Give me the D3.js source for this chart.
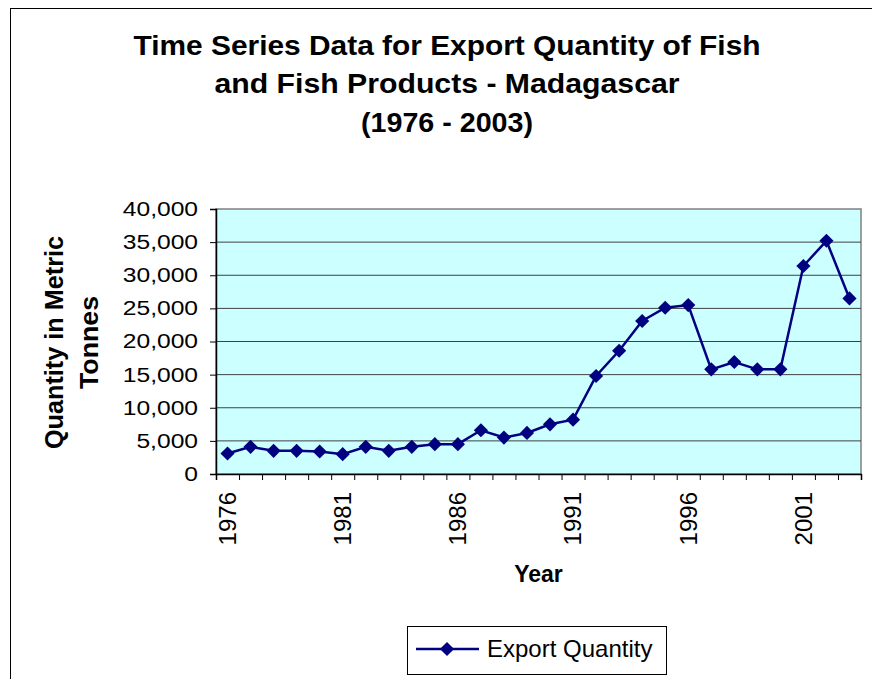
<!DOCTYPE html>
<html>
<head>
<meta charset="utf-8">
<script src="https://cdn.jsdelivr.net/npm/d3@7"></script>
<style>
  body { margin: 0; background: #fff; }
  text { font-family: "Liberation Sans", Arial, sans-serif; fill: #000; }
</style>
</head>
<body>
<svg id="chart" width="872" height="679"></svg>
<script>
// data
var years = [1976, 1977, 1978, 1979, 1980, 1981, 1982, 1983, 1984, 1985, 1986, 1987, 1988, 1989,
             1990, 1991, 1992, 1993, 1994, 1995, 1996, 1997, 1998, 1999, 2000, 2001, 2002, 2003];
var exportQty = [3100, 4100, 3500, 3500, 3400, 3000, 4100, 3500, 4100, 4500, 4500, 6600, 5500, 6200,
                 7500, 8200, 14800, 18600, 23100, 25100, 25500, 15800, 16900, 15800, 15800, 31400, 35200, 26500];
var labelYears = [1976, 1981, 1986, 1991, 1996, 2001];
var yTicks = [0, 5000, 10000, 15000, 20000, 25000, 30000, 35000, 40000];
var titleLines = ["Time Series Data for Export Quantity of Fish", "and Fish Products - Madagascar", "(1976 - 2003)"];
var yTitleLines = ["Quantity in Metric", "Tonnes"];
var seriesName = "Export Quantity";

(function () {
    var svg = d3.select("#chart");
    var plotLeft = 216, plotRight = 861, plotTop = 209, plotBottom = 474;
    var navy = "#000080";

    // outer chart border
    svg.append("rect").attr("x", 10.5).attr("y", 8.5).attr("width", 900).attr("height", 700)
        .attr("fill", "#fff").attr("stroke", "#000").attr("stroke-width", 1);

    var x = d3.scaleBand().domain(years).range([plotLeft, plotRight]);
    var xEdges = d3.scaleLinear().domain([0, years.length]).range([plotLeft, plotRight]);
    var y = d3.scaleLinear().domain([0, 40000]).range([plotBottom, plotTop]);

    // plot area
    svg.append("rect").attr("x", plotLeft).attr("y", plotTop)
        .attr("width", plotRight - plotLeft).attr("height", plotBottom - plotTop)
        .attr("fill", "#CCFFFF").attr("stroke", "#808080").attr("stroke-width", 1.5);

    // gridlines
    svg.append("g").selectAll("line").data(yTicks.filter(function (d) { return d > 0 && d < 40000; })).enter().append("line")
        .attr("x1", plotLeft).attr("x2", plotRight)
        .attr("y1", function (d) { return y(d); }).attr("y2", function (d) { return y(d); })
        .attr("stroke", "#404040").attr("stroke-width", 1);

    // y axis
    var yAxis = svg.append("g").attr("transform", "translate(" + plotLeft + ",0)")
        .call(d3.axisLeft(y).tickValues(yTicks).tickSize(6).tickPadding(12).tickFormat(d3.format(",")));
    yAxis.select(".domain").attr("stroke", "#000").attr("stroke-width", 1.5);
    yAxis.selectAll(".tick line").attr("stroke", "#000");
    yAxis.selectAll("text").attr("font-size", 20).attr("fill", "#000")
        .style("font-family", "'Liberation Sans', Arial, sans-serif")
        .each(function () {
            var w = this.getComputedTextLength();
            d3.select(this).attr("textLength", w * 1.23).attr("lengthAdjust", "spacingAndGlyphs");
        });

    // x axis ticks between categories
    var xAxis = svg.append("g").attr("transform", "translate(0," + plotBottom + ")")
        .call(d3.axisBottom(xEdges).tickValues(d3.range(years.length + 1)).tickSize(6).tickFormat(""));
    xAxis.select(".domain").attr("stroke", "#000").attr("stroke-width", 1.5);
    xAxis.selectAll(".tick line").attr("stroke", "#000");

    // x labels, rotated
    svg.append("g").selectAll("text").data(labelYears).enter().append("text")
        .attr("transform", function (d) { return "translate(" + (x(d) + x.bandwidth() / 2) + "," + (plotBottom + 18) + ") rotate(-90)"; })
        .attr("text-anchor", "end").attr("dy", "0.35em").attr("font-size", 24)
        .text(function (d) { return d; });

    // series line + markers
    var line = d3.line()
        .x(function (d, i) { return x(years[i]) + x.bandwidth() / 2; })
        .y(function (d) { return y(d); });
    svg.append("path").datum(exportQty).attr("d", line)
        .attr("fill", "none").attr("stroke", navy).attr("stroke-width", 2.5);

    var diamond = d3.symbol().type(d3.symbolSquare).size(100);
    svg.append("g").selectAll("path").data(exportQty).enter().append("path")
        .attr("d", diamond)
        .attr("transform", function (d, i) { return "translate(" + (x(years[i]) + x.bandwidth() / 2) + "," + y(d) + ") rotate(45)"; })
        .attr("fill", navy);

    // title
    var titleBase = [55, 93, 132], titleWidth = [627, 465, 172];
    svg.append("g").selectAll("text").data(titleLines).enter().append("text")
        .attr("x", 447).attr("y", function (d, i) { return titleBase[i]; })
        .attr("text-anchor", "middle").attr("font-size", 28).attr("font-weight", "bold")
        .attr("textLength", function (d, i) { return titleWidth[i]; }).attr("lengthAdjust", "spacingAndGlyphs")
        .text(function (d) { return d; });

    // axis titles
    svg.append("text").attr("x", (plotLeft + plotRight) / 2).attr("y", 582)
        .attr("text-anchor", "middle").attr("font-size", 23).attr("font-weight", "bold")
        .text("Year");

    var yTitleX = [63, 98], yTitleW = [213, 93];
    svg.append("g").selectAll("text").data(yTitleLines).enter().append("text")
        .attr("transform", function (d, i) { return "translate(" + yTitleX[i] + "," + ((plotTop + plotBottom) / 2 + 1) + ") rotate(-90)"; })
        .attr("text-anchor", "middle").attr("font-size", 25).attr("font-weight", "bold")
        .attr("textLength", function (d, i) { return yTitleW[i]; }).attr("lengthAdjust", "spacingAndGlyphs")
        .text(function (d) { return d; });

    // legend
    var lg = svg.append("g");
    lg.append("rect").attr("x", 407.5).attr("y", 626.5).attr("width", 259).attr("height", 48)
        .attr("fill", "#fff").attr("stroke", "#000").attr("stroke-width", 1);
    lg.append("line").attr("x1", 416).attr("x2", 479).attr("y1", 649).attr("y2", 649)
        .attr("stroke", navy).attr("stroke-width", 2.5);
    lg.append("path").attr("d", diamond).attr("transform", "translate(447,649) rotate(45)").attr("fill", navy);
    lg.append("text").attr("x", 487).attr("y", 657).attr("font-size", 24).text(seriesName);
})();
</script>
</body>
</html>
